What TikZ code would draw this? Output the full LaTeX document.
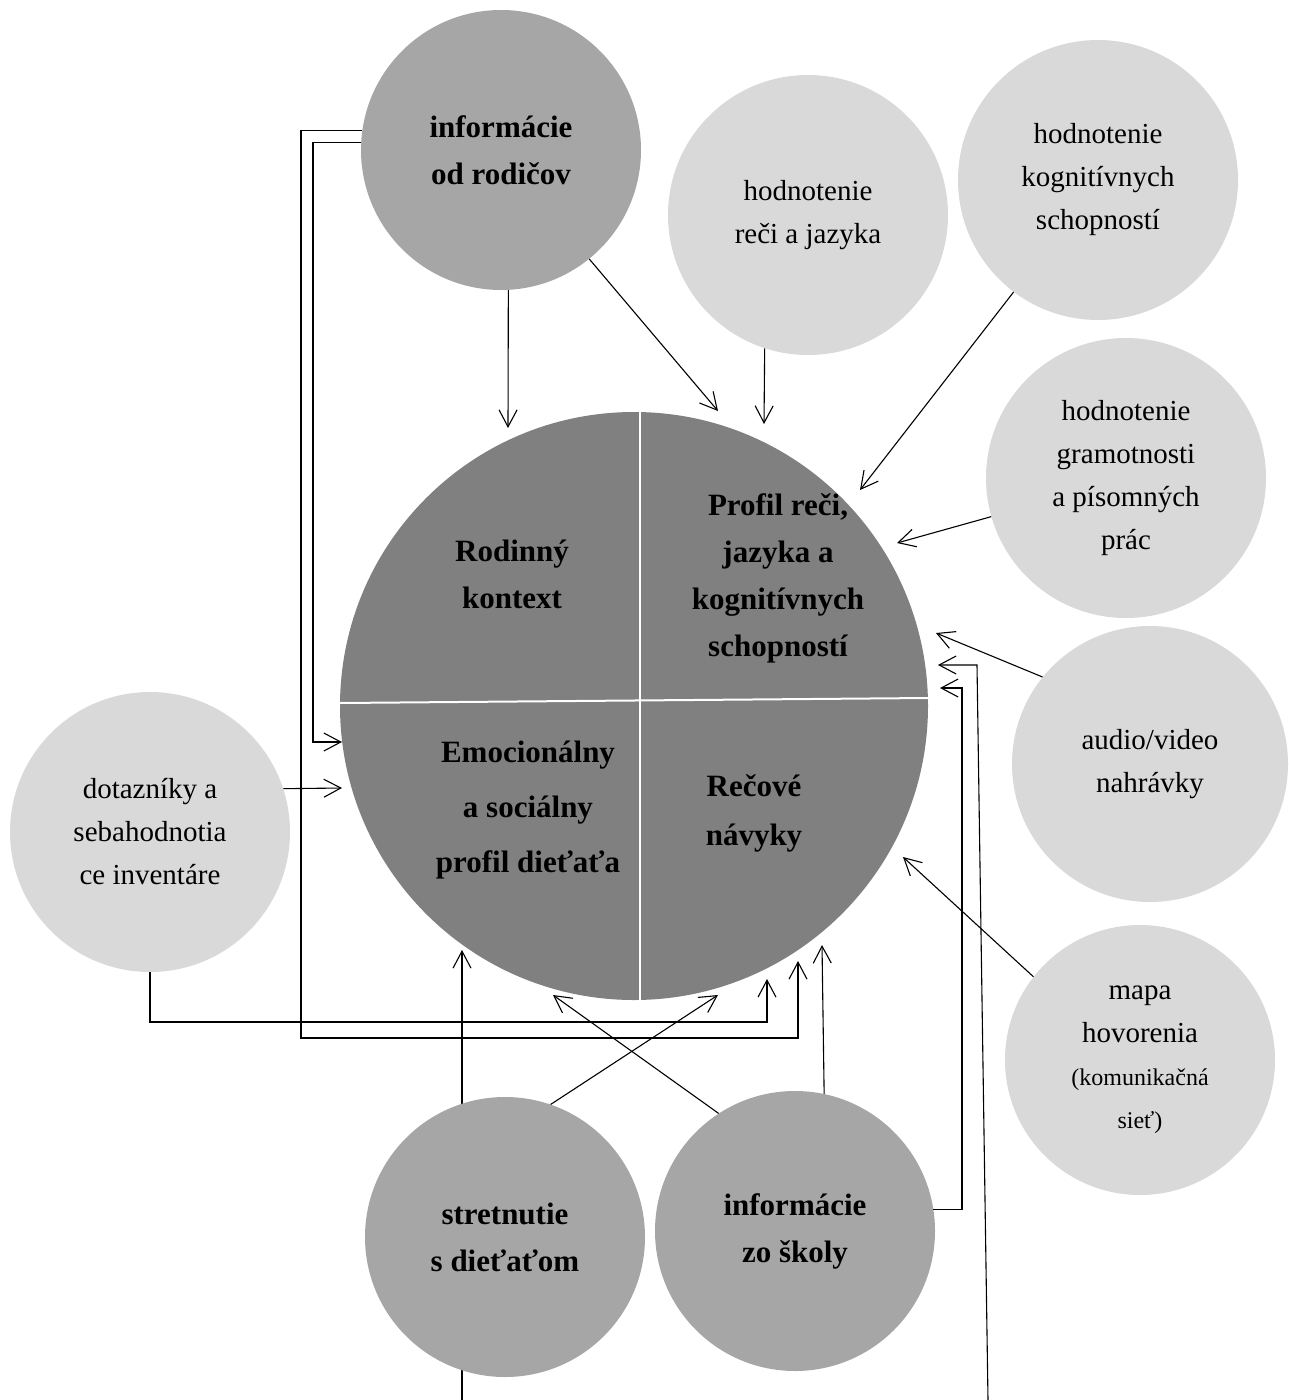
\documentclass[tikz,border=0pt]{standalone}
\usepackage{fontspec}
\setmainfont{Liberation Serif}
\usetikzlibrary{arrows.meta}
\definecolor{maingray}{HTML}{808080}
\definecolor{darkc}{HTML}{A6A6A6}
\definecolor{lightc}{HTML}{D9D9D9}
\begin{document}
\begin{tikzpicture}[x=1pt,y=-1pt,
  arr/.style={line width=1.1pt, -{Straight Barb[length=17pt,width=18pt]}},
  lightcirc/.style={circle, fill=lightc, minimum size=280pt, inner sep=0pt, align=center, font=\fontsize{29}{43}\selectfont},
  darkcirc/.style={circle, fill=darkc, minimum size=280pt, inner sep=0pt, align=center, font=\fontsize{31}{47}\selectfont\bfseries},
  maincirc/.style={circle, fill=maingray, minimum size=588pt, inner sep=0pt},
  divider/.style={white, line width=2pt},
  lbl/.style={align=center, font=\fontsize{31}{47}\selectfont\bfseries}]
\useasboundingbox (0,0) rectangle (1289,1400);

% lines that pass behind circles (free ends at the bottom edge)
\coordinate (Sbot) at (462,1400);
\coordinate (Stip) at (462,950);
\draw[arr] (Sbot) -- (Stip);
\coordinate (Rbot) at (988,1400);
\coordinate (Rcorner) at (977,665);
\coordinate (Rtip) at (938,665);
\draw[arr] (Rbot) -- (Rcorner) -- (Rtip);

% main circle
\node[maincirc] (C) at (634,706) {};
\draw[divider] (640,412) -- (640,1000);
\draw[divider] (340,703) -- (928,698);
\node[lbl] (t1) at (512,574) {Rodinný\\kontext};
\node[lbl] (t2) at (778,578) {Profil reči,\\jazyka a\\kognitívnych\\schopností};
\node[lbl, font=\fontsize{31}{55}\selectfont\bfseries] (t3) at (528,810) {Emocionálny\\a sociálny\\profil dieťaťa};
\node[lbl, font=\fontsize{31}{49}\selectfont\bfseries] (t4) at (754,813) {Rečové\\návyky};

% surrounding circles
\node[darkcirc] (P) at (501,150) {informácie\\od rodičov};
\node[lightcirc] (RJ) at (808,215) {hodnotenie\\reči a jazyka};
\node[lightcirc] (K) at (1098,180) {hodnotenie\\kognitívnych\\schopností};
\node[lightcirc] (G) at (1126,478) {hodnotenie\\gramotnosti\\a písomných\\prác};
\node[lightcirc, minimum size=276pt] (A) at (1150,764) {audio/video\\nahrávky};
\node[lightcirc, minimum size=270pt] (M) at (1140,1060) {mapa\\hovorenia\\{\fontsize{24}{40}\selectfont (komunikačná}\\{\fontsize{24}{40}\selectfont sieť)}};
\node[lightcirc] (D) at (150,832) {dotazníky a\\sebahodnotia\\ce inventáre};
\node[darkcirc] (S) at (505,1237) {stretnutie\\s dieťaťom};
\node[darkcirc] (Sk) at (795,1231) {informácie\\zo školy};

% arrow tips near the main circle
\coordinate (tipPo) at (798,961);
\coordinate (tipPi) at (342,742);
\coordinate (tipD) at (342,788);
\coordinate (tipDb) at (767,979);
\coordinate (tipPd) at (508,428);
\coordinate (tipPdiag) at (718,411);
\coordinate (tipRJ) at (764,424);
\coordinate (tipK) at (860,490);
\coordinate (tipG) at (897,543);
\coordinate (tipA) at (936,633);
\coordinate (tipM) at (903,857);
\coordinate (tipS) at (718,995);
\coordinate (tipSk) at (553,995);
\coordinate (tipSkv) at (822,945);
\coordinate (tipSkr) at (940,688);

% connectors
\draw[arr] (P.172.6) -| (301,1038) -| (tipPo);
\draw[arr] (P.177.5) -| (313,742) -- (tipPi);
\draw[arr] (D.18.3) -- (tipD);
\draw[arr] (D.south) |- (767,1022) -- (tipDb);
\draw[arr] (P.-87) -- (tipPd);
\draw[arr] (P.-51) -- (tipPdiag);
\draw[arr] (RJ.-108.3) -- (tipRJ);
\draw[arr] (K.-127) -- (tipK);
\draw[arr] (G.-164) -- (tipG);
\draw[arr] (A.141) -- (tipA);
\draw[arr] (M.142) -- (tipM);
\draw[arr] (S.71.3) -- (tipS);
\draw[arr] (Sk.123.7) -- (tipSk);
\draw[arr] (Sk.78.9) -- (tipSkv);
\draw[arr] (Sk.9.5) -| (962,688) -- (tipSkr);
\end{tikzpicture}
\end{document}
